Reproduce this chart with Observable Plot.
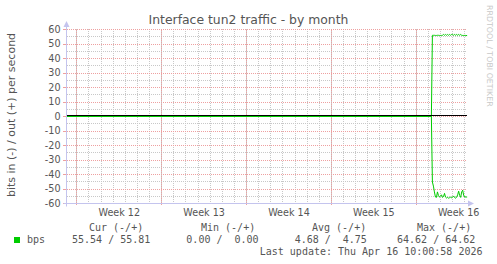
<!DOCTYPE html>
<html><head><meta charset="utf-8">
<script src="https://cdn.jsdelivr.net/npm/d3@7"></script>
<script src="https://cdn.jsdelivr.net/npm/@observablehq/plot@0.6"></script>
<style>
html,body{margin:0;padding:0;background:#fff;}
#chart svg{display:block;}
</style>
</head><body><div id="chart"></div>
<script>
// ---- text ----
const title = "Interface tun2 traffic - by month";
const yLabel = "bits in (-) / out (+) per second";
const watermark = "RRDTOOL / TOBI OETIKER";
const legendName = "bps";
const colHeaders = ["Cur (-/+)", "Min (-/+)", "Avg (-/+)", "Max (-/+)"];
const inStats = [55.54, 0.00, 4.68, 64.62];
const outStats = [55.81, 0.00, 4.75, 64.62];
const lastUpdate = "Last update: Thu Apr 16 10:00:58 2026";

// ---- axes ----
const rangeStart = "2026-03-14T05:30:00Z";
const rangeEnd = "2026-04-16T05:30:00Z";
const weekStarts = ["2026-03-15", "2026-03-22", "2026-03-29", "2026-04-05", "2026-04-12"];
const weekLabels = ["Week 12", "Week 13", "Week 14", "Week 15", "Week 16"];
const yMajor = [-60, -50, -40, -30, -20, -10, 0, 10, 20, 30, 40, 50, 60];
const yMinor = [-55, -45, -35, -25, -15, -5, 5, 15, 25, 35, 45, 55];

// ---- data: hours relative to 2026-04-13 00:00 UTC ----
const dataBase = "2026-04-13T00:00:00Z";
const hours = [-714.5, 6, 8, 10, 12, 14, 16, 18, 20, 22, 24, 26, 28, 30, 32, 34, 36, 38, 40, 42, 44, 46, 48, 50, 52, 54, 56, 58, 60, 62, 64, 66, 68, 70, 72, 74, 76];
const outVals = [0, 0, 56.0, 56.0, 56.0, 55.9, 55.9, 56.0, 56.0, 55.9, 55.9, 55.9, 56.0, 56.6, 56.0, 56.6, 56.0, 56.6, 56.0, 56.6, 56.0, 56.6, 56.6, 56.0, 56.6, 56.0, 56.6, 56.0, 56.6, 56.0, 56.6, 56.0, 55.9, 55.9, 55.9, 55.9, 55.8];
const inVals = [0, 0, 45.2, 48.0, 52.0, 55.5, 55.8, 52.0, 54.5, 55.6, 55.0, 54.0, 55.8, 55.2, 53.0, 55.6, 56.2, 55.8, 56.3, 56.0, 55.5, 56.2, 55.6, 54.8, 55.9, 56.3, 55.7, 54.0, 51.5, 54.5, 55.8, 52.0, 50.8, 54.5, 55.6, 55.5, 55.5];

const base = new Date(dataBase);
const data = hours.map((h, i) => ({t: new Date(+base + h * 3600e3), out: outVals[i], inn: -inVals[i]}));
const x0 = new Date(rangeStart), x1 = new Date(rangeEnd);
const firstDay = new Date(Date.UTC(x0.getUTCFullYear(), x0.getUTCMonth(), x0.getUTCDate() + 1));
const days = [];
for (let t = +firstDay; t < +x1; t += 864e5) days.push(new Date(t));
const weeks = weekStarts.map(d => new Date(d + "T00:00:00Z"));
const mids = weeks.map(d => new Date(+d + 3.5 * 864e5));
const msPerPx = (x1 - x0) / 400;
const tickStart = new Date(+x0 - 4 * msPerPx);

const green = "#00cc00";
const gridGray = "#c8c8c8";
const gridRed = "#eea0a0";
const axisCol = "#c4c4ee";
const textCol = "#555";
const crisp = {shapeRendering: "crispEdges"};

const plot = Plot.plot({
  width: 497, height: 264,
  marginLeft: 67, marginRight: 30, marginTop: 29, marginBottom: 61,
  x: {type: "utc", domain: [x0, x1], range: [67, 467]},
  y: {domain: [-60, 60], range: [203, 29]},
  style: {fontFamily: "DejaVu Sans", fontSize: "9.6px", color: textCol, background: "#fff", overflow: "visible"},
  marks: [
    Plot.ruleY(yMinor, {x1: () => x0, x2: () => x1, stroke: gridGray, strokeDasharray: "1,1", ...crisp}),
    Plot.ruleX(weeks, {y1: -60, y2: 60, stroke: gridRed, strokeDasharray: "1,1", ...crisp}),
    Plot.ruleY(yMajor, {x1: () => x0, x2: () => x1, stroke: gridRed, strokeDasharray: "1,1", ...crisp}),
    Plot.ruleX(weeks, {y1: -60, y2: -61.6, stroke: gridRed, ...crisp}),
    Plot.ruleY(yMajor, {x1: () => tickStart, x2: () => x0, stroke: gridRed, ...crisp}),
    Plot.axisY({ticks: yMajor, tickSize: 0, tickPadding: 7, tickFormat: d => String(d), label: null}),
    Plot.axisX({ticks: mids, tickSize: 0, tickPadding: 6, tickFormat: d => weekLabels[mids.findIndex(m => +m === +d)], label: null}),
    Plot.line(data, {x: "t", y: "out", stroke: green, strokeWidth: 1}),
    Plot.line(data, {x: "t", y: "inn", stroke: green, strokeWidth: 1}),
    Plot.ruleY([0], {x1: () => x0, x2: () => x1, stroke: "#000", dy: -1, ...crisp})
  ]
});
document.getElementById("chart").appendChild(plot);

const svg = d3.select(plot);
const xs = plot.scale("x"), ys = plot.scale("y");

// daily minor grid, placed through the plot's x scale, inserted beneath the other marks
const dayG = svg.insert("g", "g").attr("stroke", gridGray).attr("stroke-dasharray", "1,1");
const yTop = Math.round(ys.apply(60)), yBot = Math.round(ys.apply(-60));
days.forEach(d => {
  const px = Math.round(xs.apply(d)) + 0.5;
  dayG.append("line").attr("x1", px).attr("x2", px).attr("y1", yTop).attr("y2", yBot);
});

const ax = xs.apply(x0) - 0.5;
const ayB = ys.apply(-60) + 0.5;
const ayT = ys.apply(60);
const axR = xs.apply(x1);
svg.append("line").attr("x1", ax).attr("x2", ax).attr("y1", ayB + 3).attr("y2", ayT - 4).attr("stroke", axisCol);
svg.append("line").attr("x1", ax - 3).attr("x2", axR + 2).attr("y1", ayB).attr("y2", ayB).attr("stroke", axisCol);
svg.append("path").attr("d", `M${ax - 3},${ayT - 2}L${ax + 3},${ayT - 2}L${ax},${ayT - 8}Z`).attr("fill", axisCol);
svg.append("path").attr("d", `M${axR + 1},${ayB - 3}L${axR + 1},${ayB + 3}L${axR + 7},${ayB}Z`).attr("fill", axisCol);

function txt(x, y, s, opts = {}) {
  return svg.append("text").attr("x", x).attr("y", y)
    .attr("text-anchor", opts.anchor || "start")
    .attr("font-family", opts.font || "DejaVu Sans")
    .attr("font-size", opts.size || "10px")
    .attr("fill", opts.fill || textCol)
    .attr("transform", opts.transform || null)
    .style("white-space", "pre").text(s);
}
txt(248.5, 24, title, {anchor: "middle", size: "12.4px"});
txt(0, 0, yLabel, {anchor: "middle", size: "11px", transform: "translate(14.5,115) rotate(-90)"});
txt(0, 0, watermark, {size: "7.9px", fill: "#c8c8c8", transform: "translate(486.5,5) rotate(90)"});

const mono = "DejaVu Sans Mono";
const fmt = d3.format("5.2f");
const headerX = [89, 201, 312, 417];
const valueEnd = [150.3, 258.6, 366.9, 475.3];
colHeaders.forEach((h, i) => {
  txt(headerX[i], 230.5, h, {font: mono});
  txt(valueEnd[i], 242.5, fmt(inStats[i]).trim() + " / " + fmt(outStats[i]), {font: mono, anchor: "end"});
});
svg.append("rect").attr("x", 14).attr("y", 237).attr("width", 6).attr("height", 6).attr("fill", green);
txt(27, 242.5, legendName, {font: mono});
txt(482.5, 255, lastUpdate, {font: mono, anchor: "end"});
</script>
</body></html>
